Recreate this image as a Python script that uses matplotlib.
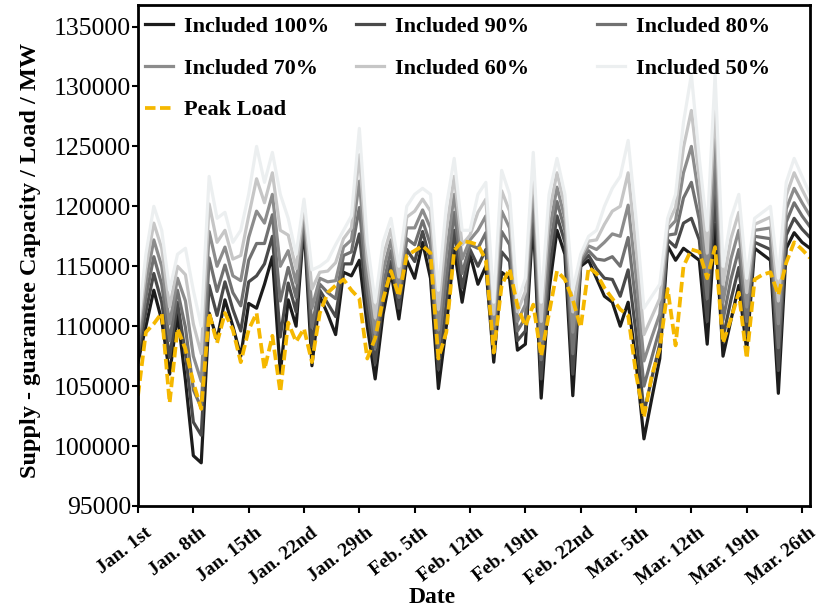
import numpy as np
import matplotlib
matplotlib.use("Agg")
import matplotlib.pyplot as plt
from matplotlib.transforms import ScaledTranslation

# values in thousand MW, one per day starting Jan. 1st
supply_100 = [107.0, 110.0, 113.0, 110.5, 106.0, 111.0, 105.5, 99.2, 98.6, 111.1,
              108.9, 112.2, 110.0, 107.5, 111.9, 111.5, 113.5, 115.8, 106.1, 112.2,
              110.0, 118.5, 106.7, 112.5, 111.0, 109.3, 114.5, 114.2, 115.5, 110.0,
              105.6, 111.0, 114.5, 110.6, 115.5, 114.0, 117.0, 114.0, 104.8, 110.0,
              116.5, 112.0, 116.0, 113.5, 115.0, 107.0, 114.5, 114.0, 108.0, 108.5,
              119.0, 104.0, 113.0, 118.0, 116.0, 104.2, 115.0, 115.5, 114.0, 112.5,
              112.0, 110.0, 112.0, 107.0, 100.6, 104.0, 107.3, 116.7, 115.5, 116.5,
              116.0, 115.5, 108.5, 118.5, 107.5, 110.5, 113.4, 108.0, 116.5, 116.0,
              115.5, 104.4, 116.5, 117.8, 117.0, 116.5]
supply_90 = [107.6, 111.2, 114.4, 112.0, 107.4, 112.0, 107.7, 102.0, 100.9, 113.4,
             110.9, 113.7, 111.4, 109.6, 113.7, 114.2, 115.2, 117.5, 109.1, 113.6,
             111.2, 119.0, 108.3, 113.0, 111.9, 110.8, 115.2, 115.2, 117.7, 111.4,
             106.9, 112.2, 115.4, 111.5, 116.4, 115.4, 117.9, 115.4, 106.4, 112.0,
             118.0, 113.2, 116.4, 115.0, 116.4, 108.0, 116.2, 115.4, 108.8, 109.6,
             120.1, 105.6, 114.6, 119.2, 117.0, 106.0, 115.2, 115.9, 114.8, 114.0,
             113.9, 112.5, 114.7, 109.4, 102.8, 105.7, 108.5, 117.2, 116.6, 118.6,
             119.0, 117.2, 110.4, 121.0, 109.0, 112.2, 114.9, 109.2, 117.0, 116.7,
             116.4, 106.3, 117.6, 119.0, 118.1, 117.4]
supply_80 = [108.2, 112.4, 115.8, 113.5, 108.8, 113.0, 109.9, 104.7, 103.2, 115.7,
             112.9, 115.1, 112.8, 111.7, 115.5, 116.9, 116.9, 119.3, 112.1, 114.9,
             112.4, 119.4, 109.9, 113.5, 112.8, 112.3, 115.9, 116.2, 119.9, 112.8,
             108.2, 113.4, 116.3, 112.4, 117.3, 116.8, 118.8, 116.8, 108.1, 114.0,
             119.5, 114.4, 116.8, 116.5, 117.8, 109.0, 117.9, 116.8, 109.6, 110.7,
             121.2, 107.2, 116.2, 120.4, 118.0, 107.7, 115.4, 116.3, 115.6, 115.5,
             115.8, 115.0, 117.4, 111.8, 105.0, 107.4, 109.8, 117.6, 117.7, 120.7,
             122.0, 118.9, 112.3, 123.5, 110.5, 113.9, 116.4, 110.4, 117.5, 117.4,
             117.3, 108.2, 118.7, 120.3, 119.2, 118.3]
supply_70 = [108.8, 113.6, 117.2, 115.0, 110.2, 114.0, 112.1, 107.5, 105.4, 117.9,
             115.0, 116.6, 114.2, 113.8, 117.4, 119.6, 118.6, 121.0, 115.0, 116.3,
             113.6, 119.8, 111.5, 114.0, 113.7, 113.8, 116.6, 117.2, 122.1, 114.2,
             109.4, 114.6, 117.2, 113.2, 118.2, 118.2, 119.7, 118.2, 109.7, 116.0,
             121.0, 115.6, 117.2, 118.0, 119.2, 110.0, 119.6, 118.2, 110.4, 111.8,
             122.3, 108.8, 117.8, 121.6, 119.0, 109.5, 115.6, 116.7, 116.4, 117.0,
             117.7, 117.5, 120.1, 114.2, 107.1, 109.1, 111.0, 118.1, 118.8, 122.8,
             125.0, 120.6, 114.2, 126.0, 112.0, 115.6, 118.0, 111.6, 118.0, 118.1,
             118.2, 110.2, 119.8, 121.5, 120.3, 119.2]
supply_60 = [109.4, 114.8, 118.6, 116.5, 111.6, 115.0, 114.3, 110.2, 107.7, 120.2,
             117.0, 118.0, 115.6, 115.9, 119.2, 122.3, 120.3, 122.8, 118.0, 117.6,
             114.8, 120.2, 113.1, 114.5, 114.6, 115.3, 117.3, 118.2, 124.3, 115.6,
             110.7, 115.8, 118.1, 114.1, 119.1, 119.6, 120.6, 119.6, 111.4, 118.0,
             122.5, 116.8, 117.6, 119.5, 120.6, 111.0, 121.3, 119.6, 111.2, 112.9,
             123.4, 110.4, 119.4, 122.8, 120.0, 111.2, 115.8, 117.1, 117.2, 118.5,
             119.6, 120.0, 122.8, 116.6, 109.3, 110.8, 112.3, 118.5, 119.9, 124.9,
             128.0, 122.3, 116.1, 128.5, 113.5, 117.3, 119.5, 112.8, 118.5, 118.8,
             119.1, 112.1, 120.9, 122.8, 121.4, 120.1]
supply_50 = [110.0, 116.0, 120.0, 118.0, 113.0, 116.0, 116.5, 113.0, 110.0, 122.5,
             119.0, 119.5, 117.0, 118.0, 121.0, 125.0, 122.0, 124.5, 121.0, 119.0,
             116.0, 120.6, 114.7, 115.0, 115.5, 116.8, 118.0, 119.2, 126.5, 117.0,
             112.0, 117.0, 119.0, 115.0, 120.0, 121.0, 121.5, 121.0, 113.0, 120.0,
             124.0, 118.0, 118.0, 121.0, 122.0, 112.0, 123.0, 121.0, 112.0, 114.0,
             124.5, 112.0, 121.0, 124.0, 121.0, 113.0, 116.0, 117.5, 118.0, 120.0,
             121.5, 122.5, 125.5, 119.0, 111.5, 112.5, 113.5, 119.0, 121.0, 127.0,
             131.0, 124.0, 118.0, 131.0, 115.0, 119.0, 121.0, 114.0, 119.0, 119.5,
             120.0, 114.0, 122.0, 124.0, 122.5, 121.0]
peak_load = [104.2, 109.5, 110.2, 111.1, 103.6, 109.8, 108.1, 105.3, 103.1, 111.1,
             108.6, 111.1, 109.7, 107.0, 109.7, 111.1, 106.4, 109.2, 104.5, 110.3,
             108.7, 109.8, 107.0, 111.1, 112.8, 113.4, 113.9, 113.0, 112.3, 107.3,
             109.0, 112.2, 114.6, 112.5, 115.9, 116.3, 116.7, 116.1, 107.3, 109.5,
             116.3, 117.1, 117.0, 116.8, 115.5, 107.8, 113.4, 114.8, 111.7, 110.0,
             111.8, 107.5, 111.1, 114.6, 113.9, 112.2, 109.9, 114.9, 114.4, 113.2,
             112.3, 111.4, 110.9, 106.0, 102.4, 105.9, 108.1, 113.1, 108.4, 115.0,
             116.4, 116.2, 114.0, 116.6, 108.6, 110.6, 112.8, 107.3, 113.9, 114.3,
             114.5, 112.6, 115.3, 117.0, 116.4, 115.7]

tick_days = [0, 7, 14, 21, 28, 35, 42, 49, 56, 63, 70, 77, 84]
tick_labels = ["Jan. 1st", "Jan. 8th", "Jan. 15th", "Jan. 22nd", "Jan. 29th",
               "Feb. 5th", "Feb. 12th", "Feb. 19th", "Feb. 22nd", "Mar. 5th",
               "Mar. 12th", "Mar. 19th", "Mar. 26th"]

series = [
    ("Included 100%", supply_100, "#1c1c1c"),
    ("Included 90%", supply_90, "#4a4a4a"),
    ("Included 80%", supply_80, "#717171"),
    ("Included 70%", supply_70, "#8c8c8c"),
    ("Included 60%", supply_60, "#c6c6c6"),
    ("Included 50%", supply_50, "#eceff0"),
]

plt.rcParams["font.family"] = ["Liberation Serif", "DejaVu Serif"]

fig = plt.figure(figsize=(8.17, 6.08), dpi=100)
ax = fig.add_axes([0.1689, 0.1678, 0.8225, 0.824])

days = np.arange(len(peak_load))
lines = {}
for name, vals, color in series:
    lines[name], = ax.plot(days, np.array(vals) * 1000, color=color, lw=2.3,
                           label=name)
lines["Peak Load"], = ax.plot(days, np.array(peak_load) * 1000, color="#f5b800",
                              lw=2.7, dashes=(2.8, 1.2), label="Peak Load")

ax.set_xlim(0, 85)
ax.set_ylim(95000, 136800)
ax.set_yticks(np.arange(95000, 135001, 5000))
ax.set_xticks(tick_days)
ax.set_xticklabels(tick_labels, rotation=38, ha="right", va="top",
                   rotation_mode="anchor", fontweight="bold", fontsize=14)
ax.tick_params(axis="x", length=5, width=1.5, pad=8)
ax.tick_params(axis="y", length=4, width=1.5, labelsize=18.5, pad=1)
shift = ScaledTranslation(6 / 100, 0, fig.dpi_scale_trans)
for lab in ax.get_xticklabels():
    lab.set_transform(lab.get_transform() + shift)
for s in ax.spines.values():
    s.set_linewidth(2)

ax.set_xlabel("Date", fontsize=17, fontweight="bold")
ax.xaxis.set_label_coords(0.4375, -0.162)
ax.set_ylabel("Supply - guarantee Capacity / Load / MW", fontsize=17.5,
              fontweight="bold")
ax.yaxis.set_label_coords(-0.145, 0.49)

# legend in three columns, placed one column at a time
cols = [(["Included 100%", "Included 70%", "Peak Load"], 0.0104),
        (["Included 90%", "Included 60%"], 0.3244),
        (["Included 80%", "Included 50%"], 0.683)]
for i, (names, x0) in enumerate(cols):
    leg = ax.legend([lines[n] for n in names], names, loc="upper left",
                    bbox_to_anchor=(x0, 0.977), frameon=False, borderpad=0,
                    borderaxespad=0, handlelength=1.25, handletextpad=0.5,
                    labelspacing=0.95, prop={"weight": "bold", "size": 16})
    if i < len(cols) - 1:
        ax.add_artist(leg)

fig.savefig("out.png", dpi=100)
